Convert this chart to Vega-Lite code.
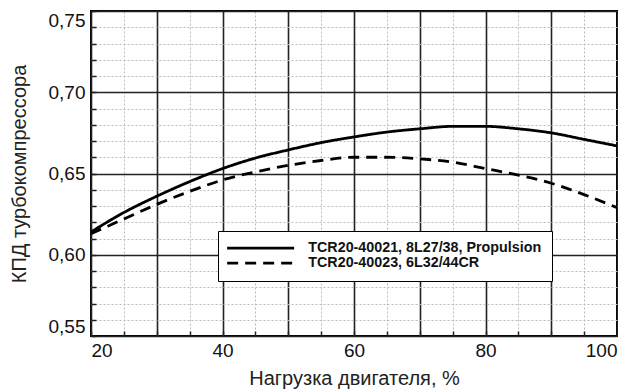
{
  "$schema": "https://vega.github.io/schema/vega-lite/v6.json",
  "width": 526,
  "height": 325,
  "autosize": "none",
  "padding": {"left": 91, "top": 11, "right": 1, "bottom": 56},
  "background": "white",
  "config": {
    "font": "Liberation Sans",
    "view": {"stroke": "black", "strokeWidth": 2},
    "axis": {"labelFont": "Liberation Sans", "titleFont": "Liberation Sans", "labelColor": "#111", "titleColor": "#222", "titleFontWeight": "normal"}
  },
  "data": {
    "values": [
      {"series": "TCR20-40021, 8L27/38, Propulsion", "load": 20, "eff": 0.614},
      {"series": "TCR20-40021, 8L27/38, Propulsion", "load": 25, "eff": 0.626},
      {"series": "TCR20-40021, 8L27/38, Propulsion", "load": 30, "eff": 0.636},
      {"series": "TCR20-40021, 8L27/38, Propulsion", "load": 35, "eff": 0.645},
      {"series": "TCR20-40021, 8L27/38, Propulsion", "load": 40, "eff": 0.653},
      {"series": "TCR20-40021, 8L27/38, Propulsion", "load": 45, "eff": 0.6595},
      {"series": "TCR20-40021, 8L27/38, Propulsion", "load": 50, "eff": 0.6645},
      {"series": "TCR20-40021, 8L27/38, Propulsion", "load": 55, "eff": 0.669},
      {"series": "TCR20-40021, 8L27/38, Propulsion", "load": 60, "eff": 0.6725},
      {"series": "TCR20-40021, 8L27/38, Propulsion", "load": 65, "eff": 0.6755},
      {"series": "TCR20-40021, 8L27/38, Propulsion", "load": 70, "eff": 0.6775},
      {"series": "TCR20-40021, 8L27/38, Propulsion", "load": 75, "eff": 0.679},
      {"series": "TCR20-40021, 8L27/38, Propulsion", "load": 80, "eff": 0.679},
      {"series": "TCR20-40021, 8L27/38, Propulsion", "load": 85, "eff": 0.6775},
      {"series": "TCR20-40021, 8L27/38, Propulsion", "load": 90, "eff": 0.675},
      {"series": "TCR20-40021, 8L27/38, Propulsion", "load": 95, "eff": 0.671},
      {"series": "TCR20-40021, 8L27/38, Propulsion", "load": 100, "eff": 0.667},
      {"series": "TCR20-40023, 6L32/44CR", "load": 20, "eff": 0.613},
      {"series": "TCR20-40023, 6L32/44CR", "load": 25, "eff": 0.622},
      {"series": "TCR20-40023, 6L32/44CR", "load": 30, "eff": 0.631},
      {"series": "TCR20-40023, 6L32/44CR", "load": 35, "eff": 0.639},
      {"series": "TCR20-40023, 6L32/44CR", "load": 40, "eff": 0.646},
      {"series": "TCR20-40023, 6L32/44CR", "load": 45, "eff": 0.651},
      {"series": "TCR20-40023, 6L32/44CR", "load": 50, "eff": 0.655},
      {"series": "TCR20-40023, 6L32/44CR", "load": 55, "eff": 0.658},
      {"series": "TCR20-40023, 6L32/44CR", "load": 60, "eff": 0.660},
      {"series": "TCR20-40023, 6L32/44CR", "load": 65, "eff": 0.660},
      {"series": "TCR20-40023, 6L32/44CR", "load": 70, "eff": 0.659},
      {"series": "TCR20-40023, 6L32/44CR", "load": 75, "eff": 0.657},
      {"series": "TCR20-40023, 6L32/44CR", "load": 80, "eff": 0.653},
      {"series": "TCR20-40023, 6L32/44CR", "load": 85, "eff": 0.649},
      {"series": "TCR20-40023, 6L32/44CR", "load": 90, "eff": 0.644},
      {"series": "TCR20-40023, 6L32/44CR", "load": 95, "eff": 0.637},
      {"series": "TCR20-40023, 6L32/44CR", "load": 100, "eff": 0.629}
    ]
  },
  "mark": {"type": "line", "interpolate": "monotone", "strokeWidth": 2.8, "color": "black", "clip": true},
  "encoding": {
    "x": {
      "field": "load", "type": "quantitative",
      "scale": {"domain": [20, 100], "nice": false, "zero": false},
      "axis": {
        "title": "Нагрузка двигателя, %",
        "values": [20,25,30,35,40,45,50,55,60,65,70,75,80,85,90,95,100],
        "labelExpr": "datum.value % 20 === 0 ? datum.label : ''",
        "labelFontSize": 19, "labelPadding": 10, "labelFlush": true,
        "titleFontSize": 20, "titlePadding": 8,
        "domain": false,
        "tickSize": -5, "tickColor": "#222", "tickWidth": 1.5,
        "grid": true,
        "gridColor": {"condition": {"test": "datum.value % 10 === 0", "value": "#222"}, "value": "#bbbbbb"},
        "gridWidth": {"condition": {"test": "datum.value % 10 === 0", "value": 1.6}, "value": 1},
        "gridDash": {"condition": {"test": "datum.value % 10 === 0", "value": []}, "value": [2, 2]}
      }
    },
    "y": {
      "field": "eff", "type": "quantitative",
      "scale": {"domain": [0.55, 0.75], "nice": false, "zero": false},
      "axis": {
        "title": "КПД турбокомпрессора",
        "values": [0.55,0.56,0.57,0.58,0.59,0.6,0.61,0.62,0.63,0.64,0.65,0.66,0.67,0.68,0.69,0.7,0.71,0.72,0.73,0.74,0.75],
        "labelExpr": "round(datum.value*100) % 5 === 0 ? replace(format(datum.value, '.2f'), '.', ',') : ''",
        "labelFontSize": 19, "labelPadding": 11, "labelFlush": true,
        "titleFontSize": 20, "titlePadding": 19,
        "domain": false,
        "tickSize": -5, "tickColor": "#222", "tickWidth": 1.5,
        "grid": true,
        "gridColor": {"condition": {"test": "round(datum.value*100) % 5 === 0", "value": "#222"}, "value": "#bbbbbb"},
        "gridWidth": {"condition": {"test": "round(datum.value*100) % 5 === 0", "value": 1.6}, "value": 1},
        "gridDash": {"condition": {"test": "round(datum.value*100) % 5 === 0", "value": []}, "value": [2, 2]}
      }
    },
    "strokeDash": {
      "field": "series", "type": "nominal",
      "scale": {"domain": ["TCR20-40021, 8L27/38, Propulsion", "TCR20-40023, 6L32/44CR"], "range": [[1, 0], [11, 7]]},
      "legend": {
        "title": null,
        "orient": "none",
        "legendX": 127,
        "legendY": 220,
        "fillColor": "white",
        "strokeColor": "black",
        "padding": 10,
        "symbolType": "M-1.6,0H11.8",
        "symbolSize": 100,
        "symbolStrokeWidth": 2.8,
        "symbolStrokeColor": "black",
        "labelFont": "Liberation Sans",
        "labelFontSize": 14.3,
        "labelFontWeight": "bold",
        "labelColor": "#111",
        "labelOffset": 66,
        "rowPadding": -3,
        "labelLimit": 400
      }
    }
  }
}
